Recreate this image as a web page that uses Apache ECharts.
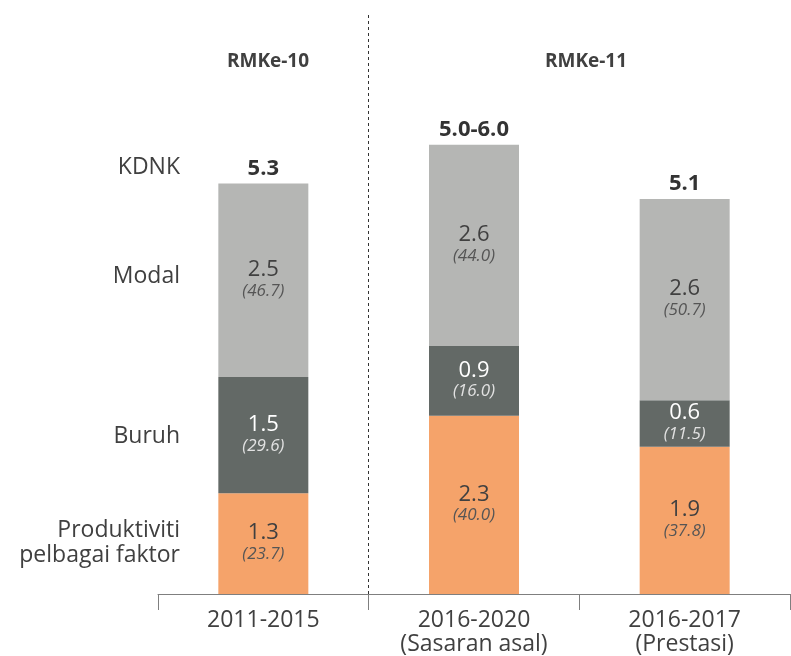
<!DOCTYPE html>
<html>
<head>
<meta charset="utf-8">
<script src="https://cdn.jsdelivr.net/npm/echarts@6/dist/echarts.min.js"></script>
<style>
  html, body { margin: 0; padding: 0; background: #fff; }
  #chart { width: 791px; height: 656px; }
</style>
</head>
<body>
<div id="chart"></div>
<script>
const categories = ["2011-2015", "2016-2020\n(Sasaran asal)", "2016-2017\n(Prestasi)"];
const produktiviti = [1.3, 2.3, 1.9];
const buruh = [1.5, 0.9, 0.6];
const modal = [2.5, 2.6, 2.6];
const produktivitiPct = ["23.7", "40.0", "37.8"];
const buruhPct = ["29.6", "16.0", "11.5"];
const modalPct = ["46.7", "44.0", "50.7"];
const kdnkLabels = ["5.3", "5.0-6.0", "5.1"];
const planLabels = ["RMKe-10", "RMKe-11"];

const FONT = "Open Sans";
const TEXT = "#404040";

const chart = echarts.init(document.getElementById("chart"));

function segLabel(pcts, dark) {
  return {
    show: true,
    position: "inside",
    formatter: (p) => "{v|" + p.value + "}\n{p|(" + pcts[p.dataIndex] + ")}",
    rich: {
      v: { fontFamily: FONT, fontSize: 22, lineHeight: 21, color: dark ? "#ffffff" : TEXT },
      p: { fontFamily: FONT, fontSize: 17, lineHeight: 21, fontStyle: "italic", color: dark ? "#e2e2e2" : "#555555" },
    },
  };
}

chart.setOption({
  animation: false,
  grid: { left: 158, right: 1, top: 13, bottom: 61 },
  title: [
    { text: planLabels[0], left: 263, top: 47, textAlign: "center",
      textStyle: { fontFamily: FONT, fontSize: 19, fontWeight: "bold", color: TEXT } },
    { text: planLabels[1], left: 581, top: 47, textAlign: "center",
      textStyle: { fontFamily: FONT, fontSize: 19, fontWeight: "bold", color: TEXT } },
  ],
  xAxis: [
    {
      type: "category",
      data: categories,
      axisLine: { lineStyle: { color: "#7f7f7f", width: 1 } },
      axisTick: { show: true, length: 16, lineStyle: { color: "#7f7f7f" } },
      axisLabel: { fontFamily: FONT, fontSize: 23, lineHeight: 24, color: TEXT, margin: 14 },
    },
    { type: "value", min: 0, max: 3, show: false },
  ],
  yAxis: { type: "value", min: 0, max: 7.5, show: false },
  graphic: [
    { type: "text", right: 611, top: 156, style: { text: "KDNK", fontFamily: FONT, fontSize: 23, fill: TEXT, textAlign: "right" } },
    { type: "text", right: 611, top: 265, style: { text: "Modal", fontFamily: FONT, fontSize: 23, fill: TEXT, textAlign: "right" } },
    { type: "text", right: 611, top: 425, style: { text: "Buruh", fontFamily: FONT, fontSize: 23, fill: TEXT, textAlign: "right" } },
    { type: "text", right: 611, top: 518, style: { text: "Produktiviti\npelbagai faktor", fontFamily: FONT, fontSize: 23, lineHeight: 25, fill: TEXT, textAlign: "right" } },
  ],
  series: [
    {
      name: "Produktiviti pelbagai faktor",
      type: "bar",
      stack: "kdnk",
      barWidth: 90,
      data: produktiviti,
      itemStyle: { color: "#f5a36a" },
      label: segLabel(produktivitiPct, false),
    },
    {
      name: "Buruh",
      type: "bar",
      stack: "kdnk",
      data: buruh,
      itemStyle: { color: "#636966" },
      label: segLabel(buruhPct, true),
    },
    {
      name: "Modal",
      type: "bar",
      stack: "kdnk",
      data: modal,
      itemStyle: { color: "#b5b6b4" },
      label: segLabel(modalPct, false),
    },
    {
      name: "KDNK",
      type: "bar",
      stack: "kdnk",
      data: [0, 0, 0],
      itemStyle: { color: "transparent" },
      label: {
        show: true,
        position: "top",
        distance: 4,
        formatter: (p) => kdnkLabels[p.dataIndex],
        fontFamily: FONT, fontSize: 22, fontWeight: "bold", color: "#333",
      },
    },
    {
      type: "line",
      xAxisIndex: 1,
      data: [],
      markLine: {
        silent: true,
        symbol: "none",
        label: { show: false },
        lineStyle: { color: "#333", type: [3, 3], width: 1 },
        data: [{ xAxis: 1 }],
      },
    },
  ],
});
</script>
</body>
</html>
